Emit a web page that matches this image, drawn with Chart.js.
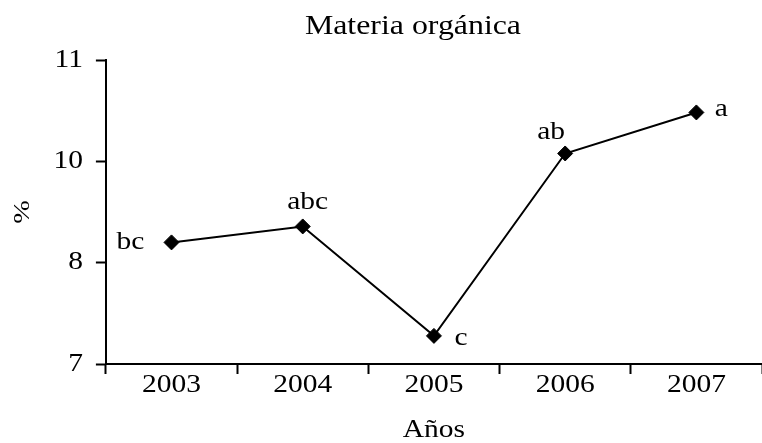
<!DOCTYPE html>
<html>
<head>
<meta charset="utf-8">
<script src="https://cdn.jsdelivr.net/npm/chart.js@4.4.1/dist/chart.umd.min.js"></script>
<style>
  body { margin: 0; background: #fff; }
  #wrap { width: 762px; height: 443px; }
</style>
</head>
<body>
<div id="wrap"><canvas id="myChart" width="762" height="443"></canvas></div>
<script>
// Data
var years = ['2003', '2004', '2005', '2006', '2007'];
var materiaOrganica = [8.60, 8.81, 7.37, 9.77, 10.31];
var sigLetters = ['bc', 'abc', 'c', 'ab', 'a'];
// y axis: 7 to 11 in 3 equal steps, labels shown rounded (7, 8, 10, 11)
var yTickValues = [7, 25 / 3, 29 / 3, 11];

// where each letter sits next to its point (pixels)
var letterOffsets = [[-41, 0], [5, -24], [27, 3], [-14, -21], [25, -3]];

var serif = "'Liberation Serif', 'Times New Roman', serif";
var textStretch = 1.18;   // the original's type is set a bit wider than Times

var canvas = document.getElementById('myChart');
var ctx = canvas.getContext('2d');

// widen every piece of text drawn on this canvas (and tell the layout about it)
var baseFillText = ctx.fillText;
var baseMeasureText = ctx.measureText;
ctx.fillText = function(text, x, y) {
    this.save();
    this.translate(x, y);
    this.scale(textStretch, 1);
    baseFillText.call(this, text, 0, 0);
    this.restore();
};
ctx.measureText = function(text) {
    var m = baseMeasureText.call(this, text);
    return {
        width: m.width * textStretch,
        actualBoundingBoxAscent: m.actualBoundingBoxAscent,
        actualBoundingBoxDescent: m.actualBoundingBoxDescent
    };
};

// Draw significance letters beside the points
var lettersPlugin = {
    id: 'letters',
    afterLayout: function(chart) {
        // title sits a little left of the plot centre in the original
        if (chart.titleBlock) chart.titleBlock.left -= 42;
    },
    afterDatasetsDraw: function(chart) {
        var c = chart.ctx;
        var meta = chart.getDatasetMeta(0);
        c.save();
        c.fillStyle = '#000';
        c.font = '25px ' + serif;
        c.textAlign = 'center';
        c.textBaseline = 'middle';
        meta.data.forEach(function(pt, i) {
            c.fillText(sigLetters[i], pt.x + letterOffsets[i][0], pt.y + letterOffsets[i][1]);
        });
        c.restore();
    }
};

var myChart = new Chart(ctx, {
    type: 'line',
    data: {
        labels: years,
        datasets: [{
            label: 'Materia orgánica',
            data: materiaOrganica,
            fill: false,
            borderColor: '#000',
            borderWidth: 2,
            lineTension: 0,
            pointStyle: 'rectRot',
            pointRadius: 7.5,
            pointHoverRadius: 7.5,
            pointBackgroundColor: '#000',
            pointBorderColor: '#000',
            pointBorderWidth: 1
        }]
    },
    options: {
        responsive: false,
        animation: false,
        layout: { autoPadding: false, padding: 0 },
        plugins: {
            legend: { display: false },
            tooltip: { enabled: false },
            title: {
                display: true,
                fullSize: false,
                text: 'Materia orgánica',
                color: '#000',
                font: { family: serif, size: 27, weight: 'normal', lineHeight: 1.2 },
                padding: { top: 11, bottom: 16.6 }
            }
        },
        scales: {
            x: {
                offset: true,
                grid: {
                    offset: true,
                    drawOnChartArea: false,
                    drawTicks: true,
                    tickLength: 10,
                    tickWidth: 2,
                    color: '#000'
                },
                border: { display: true, color: '#000', width: 2 },
                ticks: {
                    color: '#000',
                    font: { family: serif, size: 25, lineHeight: 0.9 },
                    padding: 0,
                    maxRotation: 0
                },
                title: {
                    display: true,
                    text: 'Años',
                    color: '#000',
                    font: { family: serif, size: 25, lineHeight: 1.0 },
                    padding: { top: 21.5, bottom: 0 }
                }
            },
            y: {
                min: 7,
                max: 11,
                afterBuildTicks: function(scale) {
                    scale.ticks = yTickValues.map(function(v) { return { value: v }; });
                },
                grid: {
                    drawOnChartArea: false,
                    drawTicks: true,
                    tickLength: 10,
                    tickWidth: 2,
                    color: '#000'
                },
                border: { display: true, color: '#000', width: 2 },
                ticks: {
                    color: '#000',
                    font: { family: serif, size: 25 },
                    padding: 13,
                    callback: function(value) { return Math.round(value); }
                },
                title: {
                    display: true,
                    text: '%',
                    color: '#000',
                    font: { family: serif, size: 24, lineHeight: 1.2 },
                    padding: { top: 8.6, bottom: 3 }
                }
            }
        }
    },
    plugins: [lettersPlugin]
});
</script>
</body>
</html>
